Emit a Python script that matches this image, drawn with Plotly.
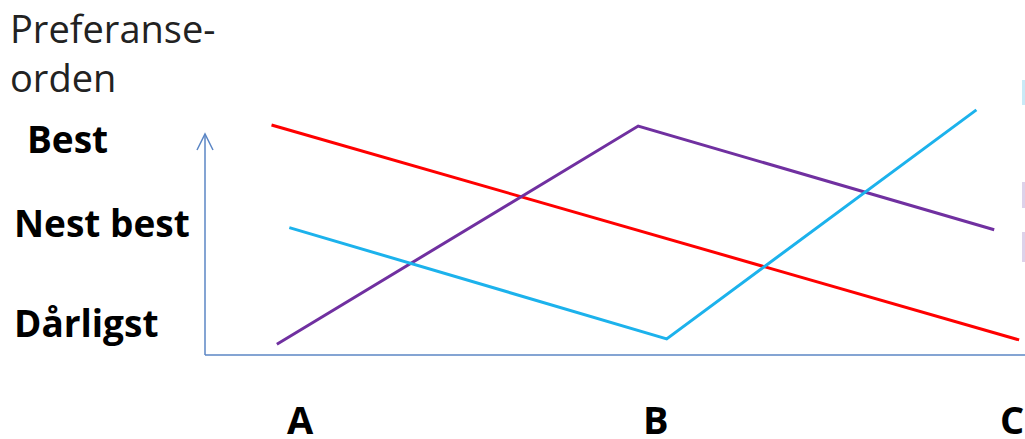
import plotly.graph_objects as go

# ---- data (x: category position A=0, B=1, C=2; y: preference rank 1=Dårligst, 2=Nest best, 3=Best)
categories = ["A", "B", "C"]
cat_pos = [0, 1, 2]
rank_labels = ["Best", "Nest best", "Dårligst"]

red_x = [-0.08, 2.02]
red_y = [3.00, 1.01]

purple_x = [-0.065, 0.95, 1.95]
purple_y = [0.97, 2.99, 2.03]

cyan_x = [-0.03, 1.03, 1.90]
cyan_y = [2.05, 1.02, 3.14]

W, H = 1025, 439
L, B = 205, 84
PW, PH = W - L, H - B

def px(xp):
    return (xp - L) / PW

def py(yp):
    return (H - B - yp) / PH

fig = go.Figure()
for xs, ys, col in [(red_x, red_y, "#FF0000"),
                    (purple_x, purple_y, "#7030A0"),
                    (cyan_x, cyan_y, "#1CB2EC")]:
    fig.add_trace(go.Scatter(x=xs, y=ys, mode="lines",
                             line=dict(color=col, width=3),
                             showlegend=False, hoverinfo="skip"))

axis_col = "#5B86C5"
shapes = [
    dict(type="line", xref="paper", yref="paper", x0=0, x1=1, y0=0, y1=0,
         line=dict(color=axis_col, width=1.5)),
    dict(type="line", xref="paper", yref="paper", x0=0, x1=0, y0=0, y1=py(134),
         line=dict(color=axis_col, width=1.5)),
    dict(type="path", xref="paper", yref="paper",
         path=f"M {px(197)} {py(150)} L {px(205)} {py(134)} L {px(213)} {py(150)}",
         line=dict(color=axis_col, width=1.5)),
    # partially visible legend boxes at the right edge
    dict(type="rect", xref="paper", yref="paper", x0=px(1022), x1=1.01,
         y0=py(105), y1=py(80), fillcolor="#C9EAF7", line=dict(width=0)),
    dict(type="rect", xref="paper", yref="paper", x0=px(1022), x1=1.01,
         y0=py(208), y1=py(182), fillcolor="#DDD2EA", line=dict(width=0)),
    dict(type="rect", xref="paper", yref="paper", x0=px(1022), x1=1.01,
         y0=py(262), y1=py(232), fillcolor="#DDD2EA", line=dict(width=0)),
]

bold = dict(family="Open Sans", size=37, color="#000000")
ann = []
# category labels
for c, p in zip(categories, cat_pos):
    ann.append(dict(x=p, y=py(419), xref="x", yref="paper", text=f"<b>{c}</b>",
                    showarrow=False, font=dict(family="Open Sans", size=38, color="#000"),
                    xanchor="center", yanchor="middle"))
# rank labels
rank_pix = [(25, 138), (12, 222), (12, 322)]
for lab, (lx, ly) in zip(rank_labels, rank_pix):
    ann.append(dict(x=px(lx), y=py(ly), xref="paper", yref="paper", text=f"<b>{lab}</b>",
                    showarrow=False, font=bold, xanchor="left", yanchor="middle"))
# axis title
ann.append(dict(x=px(8), y=py(0), xref="paper", yref="paper",
                text="Preferanse-<br>orden", showarrow=False, align="left",
                font=dict(family="Open Sans", size=38, color="#222"),
                xanchor="left", yanchor="top"))

fig.update_layout(
    width=W, height=H,
    margin=dict(l=L, r=0, t=0, b=B),
    paper_bgcolor="white", plot_bgcolor="white",
    xaxis=dict(range=[(L - 300) / 356, (W - 300) / 356], visible=False, fixedrange=True),
    yaxis=dict(range=[1 - (355 - 341) / 108, 1 + 341 / 108], visible=False, fixedrange=True),
    shapes=shapes, annotations=ann,
)

fig.write_html("out.html", config={"displayModeBar": False},
               post_script="document.body.style.margin='0';document.body.style.overflow='hidden';")
